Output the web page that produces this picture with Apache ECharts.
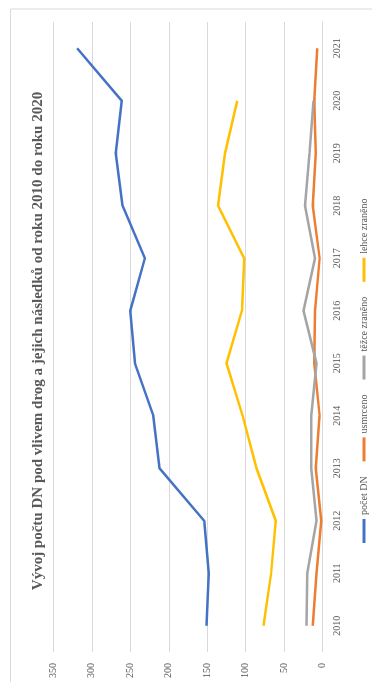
<!DOCTYPE html>
<html>
<head>
<meta charset="utf-8">
<script src="https://cdn.jsdelivr.net/npm/echarts@6/dist/echarts.min.js"></script>
<style>
html,body{margin:0;padding:0;width:372px;height:682px;overflow:hidden;background:#fff;}
#chart{position:absolute;left:0;top:0;width:682px;height:372px;transform-origin:0 0;transform:translate(0,682px) rotate(-90deg);}
</style>
</head>
<body>
<div id="chart"></div>
<script>
var years = ['2010','2011','2012','2013','2014','2015','2016','2017','2018','2019','2020','2021'];
var pocetDN = [151, 148, 154, 212, 220, 244, 250, 231, 260, 269, 261, 319];
var usmrceno = [13, 8, 2, 9, 4, 11, 10, 4, 13, 9, 11, 7];
var tezceZraneno = [21, 20, 8, 15, 15, 8, 25, 10, 23, 17, 12];
var lehceZraneno = [77, 67, 61, 86, 104, 125, 105, 102, 136, 127, 111];
var seriesNames = ['počet DN', 'usmrceno', 'těžce zraněno', 'lehce zraněno'];
var titleText = 'Vývoj počtu DN pod vlivem drog a jejich následků od roku 2010 do roku 2020';

var FONT = 'Liberation Serif';
var chart = echarts.init(document.getElementById('chart'), null, {renderer: 'canvas'});
function mk(name, data, color) {
  return {
    name: name, type: 'line', data: data, symbol: 'none', smooth: false,
    lineStyle: {color: color, width: 2.5}, itemStyle: {color: color}
  };
}
chart.setOption({
  backgroundColor: '#ffffff',
  animation: false,
  title: {
    text: titleText, left: 'center', top: 26,
    textStyle: {fontFamily: FONT, fontSize: 15, fontWeight: 'bold', color: '#595959'}
  },
  legend: {
    data: seriesNames, left: 134, top: 354, itemGap: 15, itemWidth: 24, itemHeight: 3,
    icon: 'rect',
    textStyle: {fontFamily: FONT, fontSize: 10, color: '#595959', padding: [0,0,0,-1]}
  },
  graphic: [{
    type: 'rect', silent: true,
    shape: {x: -10, y: 10.5, width: 683, height: 400},
    style: {fill: 'none', stroke: '#d9d9d9', lineWidth: 1}
  }],
  grid: {left: 30, right: 22, top: 53.3, bottom: 49.3, containLabel: false},
  xAxis: {
    type: 'category', data: years, boundaryGap: true,
    axisLine: {show: true, lineStyle: {color: '#d9d9d9', width: 1}},
    axisTick: {show: false},
    axisLabel: {fontFamily: FONT, fontSize: 10, color: '#595959', margin: 10}
  },
  yAxis: {
    type: 'value', min: 0, max: 350, interval: 50,
    axisLine: {show: false}, axisTick: {show: false},
    splitLine: {lineStyle: {color: '#d9d9d9', width: 1}},
    axisLabel: {fontFamily: FONT, fontSize: 10, color: '#595959', margin: 11}
  },
  series: [
    mk(seriesNames[0], pocetDN, '#4472C4'),
    mk(seriesNames[1], usmrceno, '#ED7D31'),
    mk(seriesNames[2], tezceZraneno, '#A5A5A5'),
    mk(seriesNames[3], lehceZraneno, '#FFC000')
  ]
});
</script>
</body>
</html>
